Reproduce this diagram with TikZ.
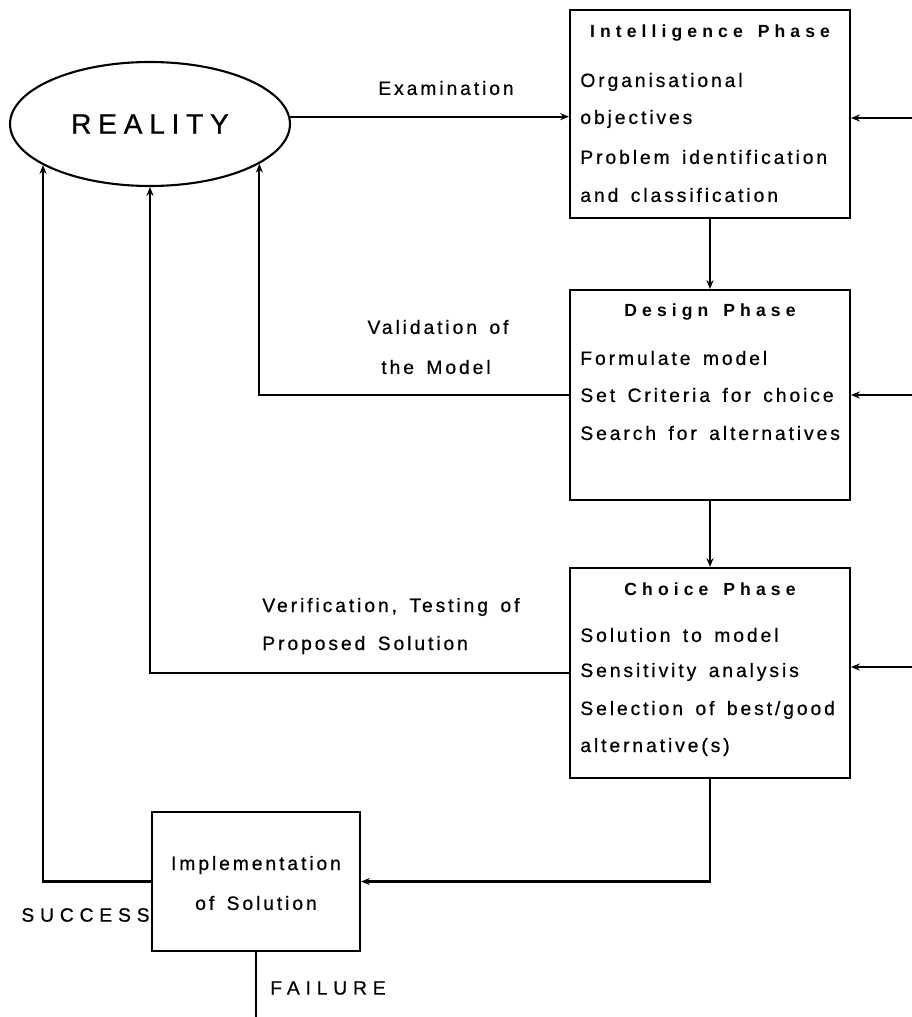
\documentclass[tikz,border=0pt]{standalone}
\usepackage{fontspec}
\setmainfont{Liberation Sans}
\newfontfamily\bodyfont[LetterSpace=15, WordSpace=1.5, FakeBold=0.6]{Liberation Sans}
\newfontfamily\headfont[LetterSpace=29, WordSpace=1.5]{Liberation Sans}
\newfontfamily\bigfont[LetterSpace=24, FakeBold=0.8]{Liberation Sans}
\newfontfamily\capsfont[LetterSpace=30, FakeBold=0.6]{Liberation Sans}
\usetikzlibrary{arrows.meta,shapes.geometric}

\tikzset{
  phase/.style={draw, line width=1.2pt, minimum width=5.6cm, minimum height=4.2cm, inner sep=0pt},
  implbox/.style={draw, line width=1.2pt, minimum width=4.16cm, minimum height=2.78cm, inner sep=0pt},
  lbl/.style={font=\bodyfont\fontsize{11}{13}\selectfont, inner sep=0pt, anchor=west},
  clbl/.style={font=\bodyfont\fontsize{11}{13}\selectfont, inner sep=0pt},
  head/.style={font=\headfont\bfseries\fontsize{10}{12}\selectfont, inner sep=0pt},
  capslbl/.style={font=\capsfont\fontsize{11}{13}\selectfont, inner sep=0pt},
  conn/.style={line width=1.2pt},
  arr/.style={conn, -{Stealth[length=5pt,width=4pt]}}
}

\begin{document}
\begin{tikzpicture}[x=0.02cm, y=-0.02cm]
\useasboundingbox (0,0) rectangle (912,1017);

% reality
\node[ellipse, draw, line width=1.2pt, minimum width=5.6cm, minimum height=2.48cm,
      inner sep=0pt, font=\bigfont\fontsize{16}{19}\selectfont] (reality) at (150,124) {REALITY};

% phase boxes
\node[phase, minimum height=4.16cm] (intel) at (710,114) {};
\node[phase] (design) at (710,395) {};
\node[phase] (choice) at (710,673) {};
\node[implbox] (impl) at (256,881.5) {};

% intelligence phase text
\node[head] (intelT) at (710,33) {Intelligence Phase};
\node[lbl] (i1) at (580,82) {Organisational};
\node[lbl] (i2) at (580,119) {objectives};
\node[lbl] (i3) at (580,157) {Problem identification};
\node[lbl] (i4) at (580,195) {and classification};

% design phase text
\node[head] (designT) at (710,312) {Design Phase};
\node[lbl] (d1) at (580,358) {Formulate model};
\node[lbl] (d2) at (580,395) {Set Criteria for choice};
\node[lbl] (d3) at (580,433) {Search for alternatives};

% choice phase text
\node[head] (choiceT) at (710,589) {Choice Phase};
\node[lbl] (c1) at (580,635) {Solution to model};
\node[lbl] (c2) at (580,672) {Sensitivity analysis};
\node[lbl] (c3) at (580,710) {Selection of best/good};
\node[lbl] (c4) at (580,747) {alternative(s)};

% implementation text
\node[clbl] (m1) at (256,865) {Implementation};
\node[clbl] (m2) at (256,903) {of Solution};

% connector labels
\node[lbl] (exam) at (378,88) {Examination};
\node[clbl] (v1) at (438,327) {Validation of};
\node[clbl] (v2) at (436,367) {the Model};
\node[lbl] (t1) at (262,607) {Verification, Testing of};
\node[lbl] (t2) at (262,645) {Proposed Solution};
\node[capslbl, anchor=east] (succ) at (150,915) {SUCCESS};
\node[capslbl, anchor=west] (fail) at (270,988) {FAILURE};

% connectors
\draw[arr] (reality.3) -- (reality.3 -| intel.west);
\draw[arr] (intel.south) -- (design.north);
\draw[arr] (design.south) -- (choice.north);
\draw[arr] (design.west) -| (reality.-20.5);
\draw[arr] (choice.west) -| (reality.south);
\draw[arr] (impl.west) -| (reality.201.3);
\draw[arr] (choice.south) |- (impl.east);

\coordinate (feedI) at (912,118);
\coordinate (feedD) at (912,395);
\coordinate (feedC) at (912,667);
\draw[arr] (feedI) -- (feedI -| intel.east);
\draw[arr] (feedD) -- (feedD -| design.east);
\draw[arr] (feedC) -- (feedC -| choice.east);

\coordinate (failEnd) at (256,1017);
\draw[conn] (impl.south) -- (failEnd);
\end{tikzpicture}
\end{document}
